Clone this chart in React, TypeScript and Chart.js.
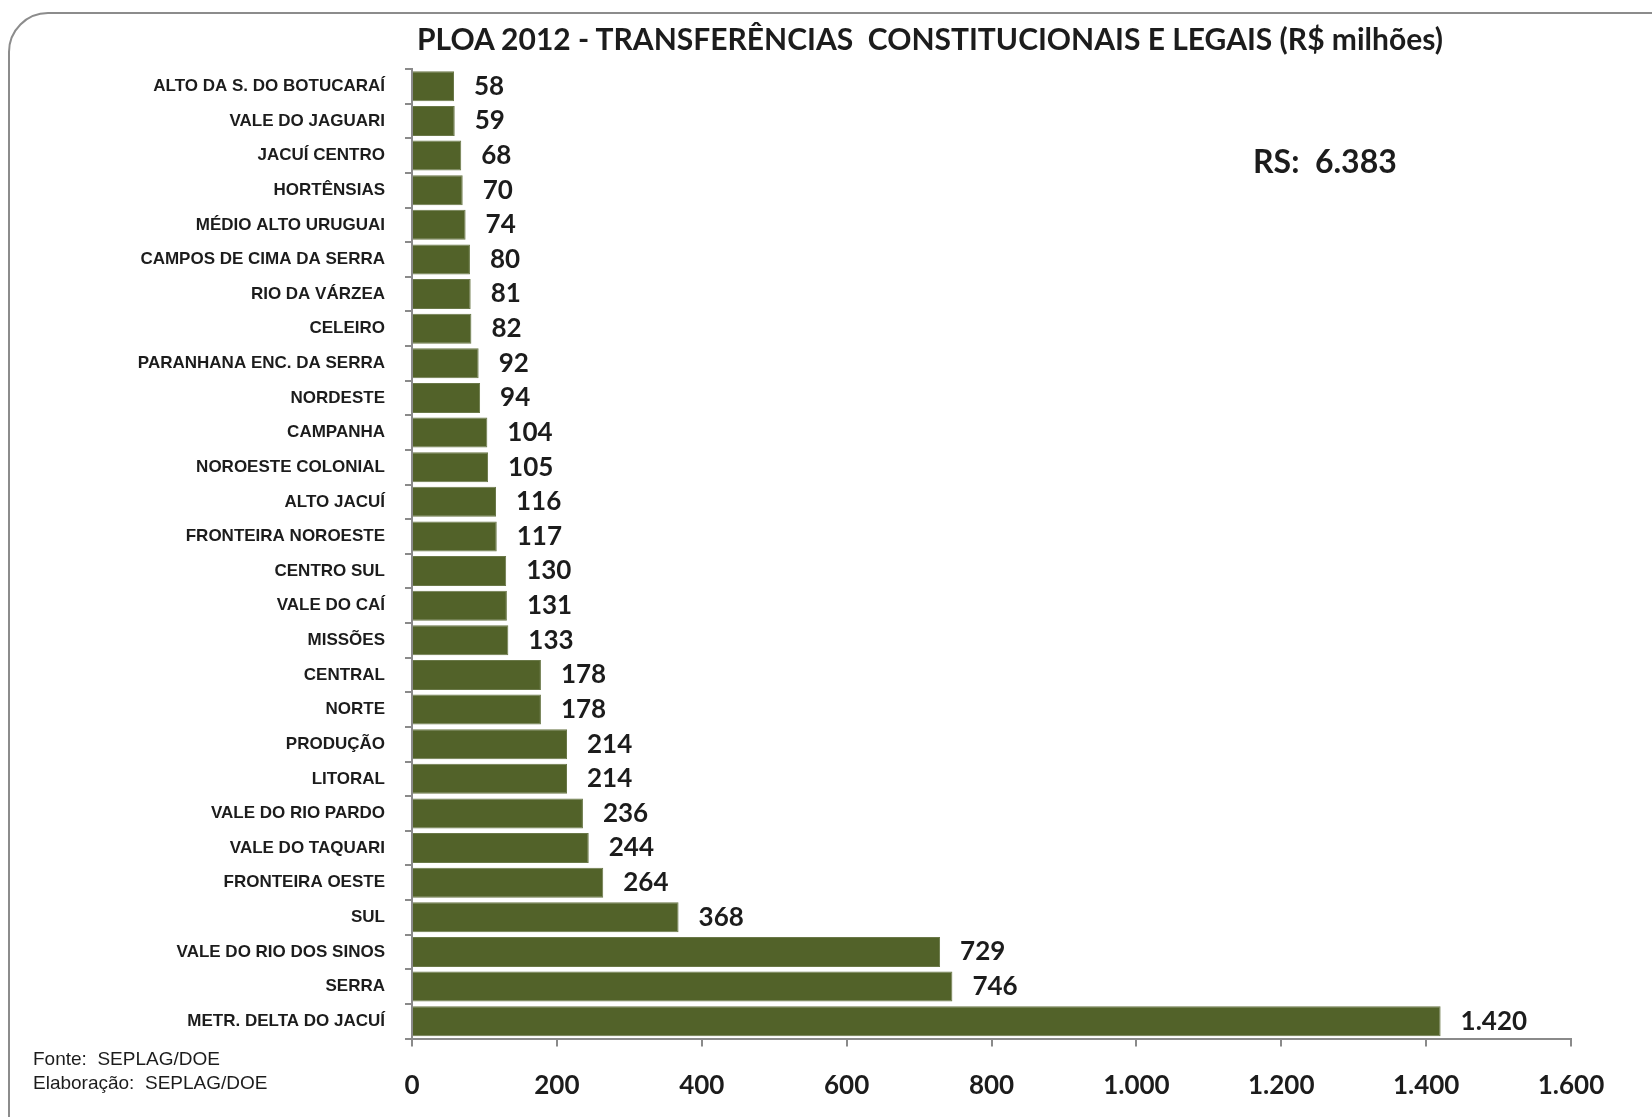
import React, { useEffect, useRef } from "react";
import { Chart, registerables } from "chart.js";

Chart.register(...registerables);

const categories = [
  "ALTO DA S. DO BOTUCARAÍ",
  "VALE DO JAGUARI",
  "JACUÍ CENTRO",
  "HORTÊNSIAS",
  "MÉDIO ALTO URUGUAI",
  "CAMPOS DE CIMA DA SERRA",
  "RIO DA VÁRZEA",
  "CELEIRO",
  "PARANHANA ENC. DA SERRA",
  "NORDESTE",
  "CAMPANHA",
  "NOROESTE COLONIAL",
  "ALTO JACUÍ",
  "FRONTEIRA NOROESTE",
  "CENTRO SUL",
  "VALE DO CAÍ",
  "MISSÕES",
  "CENTRAL",
  "NORTE",
  "PRODUÇÃO",
  "LITORAL",
  "VALE DO RIO PARDO",
  "VALE DO TAQUARI",
  "FRONTEIRA OESTE",
  "SUL",
  "VALE DO RIO DOS SINOS",
  "SERRA",
  "METR. DELTA DO JACUÍ",
];

const values = [
  58, 59, 68, 70, 74, 80, 81, 82, 92, 94, 104, 105, 116, 117, 130, 131, 133,
  178, 178, 214, 214, 236, 244, 264, 368, 729, 746, 1420,
];

const xTicks = [0, 200, 400, 600, 800, 1000, 1200, 1400, 1600];

const titleText = "PLOA 2012 - TRANSFERÊNCIAS  CONSTITUCIONAIS E LEGAIS (R$ milhões)";
const totalText = "RS:  6.383";
const sourceLines = ["Fonte:  SEPLAG/DOE", "Elaboração:  SEPLAG/DOE"];

const fmt = (v: number) =>
  String(v).replace(/\B(?=(\d{3})+(?!\d))/g, ".");

const FONT = "Lato, 'Open Sans', sans-serif";

const labelPlugin = {
  id: "barLabels",
  afterDatasetsDraw(chart: any) {
    const ctx = chart.ctx;
    const meta = chart.getDatasetMeta(0);
    ctx.save();
    ctx.font = `bold 26px ${FONT}`;
    ctx.fillStyle = "#1c1c1c";
    ctx.textAlign = "left";
    ctx.textBaseline = "middle";
    meta.data.forEach((bar: any, i: number) => {
      ctx.fillText(fmt(values[i]), bar.x + 20, bar.y);
    });
    ctx.restore();
  },
};

export default function App() {
  const ref = useRef<HTMLCanvasElement>(null);

  useEffect(() => {
    if (!ref.current) return;
    const chart = new Chart(ref.current, {
      type: "bar",
      data: {
        labels: categories,
        datasets: [
          {
            data: values,
            backgroundColor: "#526229",
            borderColor: "#6a7848",
            borderWidth: 1,
            barPercentage: 0.87,
            categoryPercentage: 1,
          },
        ],
      },
      options: {
        indexAxis: "y",
        animation: false,
        responsive: false,
        maintainAspectRatio: false,
        layout: { padding: { top: 69, right: 81, bottom: 0, left: 0 } },
        plugins: {
          legend: { display: false },
          tooltip: { enabled: false },
        },
        scales: {
          x: {
            min: 0,
            max: 1600,
            afterBuildTicks: (scale: any) => {
              scale.ticks = xTicks.map((v) => ({ value: v }));
            },
            afterFit: (scale: any) => {
              scale.height = 78.5;
            },
            grid: {
              drawOnChartArea: false,
              drawTicks: true,
              tickLength: 8,
              color: "#8a8a8a",
              lineWidth: 2,
            },
            border: { color: "#8a8a8a", width: 2 },
            ticks: {
              padding: 24,
              color: "#1c1c1c",
              font: { family: FONT, size: 26, weight: "bold" },
              callback: (v: any) => fmt(Number(v)),
            },
          },
          y: {
            afterFit: (scale: any) => {
              scale.width = 412;
            },
            grid: {
              drawOnChartArea: false,
              drawTicks: true,
              tickLength: 7,
              color: "#8a8a8a",
              lineWidth: 2,
            },
            border: { color: "#8a8a8a", width: 2 },
            ticks: {
              padding: 20,
              autoSkip: false,
              color: "#1c1c1c",
              font: { family: "'Liberation Sans', Arial, sans-serif", size: 17, weight: "bold" },
            },
          },
        },
      },
      plugins: [labelPlugin],
    } as any);
    return () => chart.destroy();
  }, []);

  return (
    <div
      style={{
        position: "fixed",
        left: 0,
        top: 0,
        width: 1652,
        height: 1117,
        overflow: "hidden",
        background: "#ffffff",
      }}
    >
      <div
        style={{
          position: "absolute",
          left: 8,
          top: 12,
          width: 1700,
          height: 1160,
          border: "2px solid #8c8c8c",
          borderRadius: 40,
          boxSizing: "border-box",
        }}
      />
      <canvas
        ref={ref}
        width={1652}
        height={1117}
        style={{ position: "absolute", left: 0, top: 0, width: 1652, height: 1117 }}
      />
      <div
        style={{
          position: "absolute",
          left: 0,
          width: 1860,
          top: 20,
          textAlign: "center",
          font: `bold 30px ${FONT}`,
          color: "#1c1c1c",
          whiteSpace: "pre",
        }}
      >
        {titleText}
      </div>
      <div
        style={{
          position: "absolute",
          left: 1253,
          top: 141,
          font: `bold 32px ${FONT}`,
          color: "#1c1c1c",
          whiteSpace: "pre",
        }}
      >
        {totalText}
      </div>
      {sourceLines.map((t, i) => (
        <div
          key={i}
          style={{
            position: "absolute",
            left: 33,
            top: 1048 + i * 24,
            font: "19px 'Liberation Sans', Arial, sans-serif",
            color: "#1c1c1c",
            whiteSpace: "pre",
          }}
        >
          {t}
        </div>
      ))}
    </div>
  );
}
